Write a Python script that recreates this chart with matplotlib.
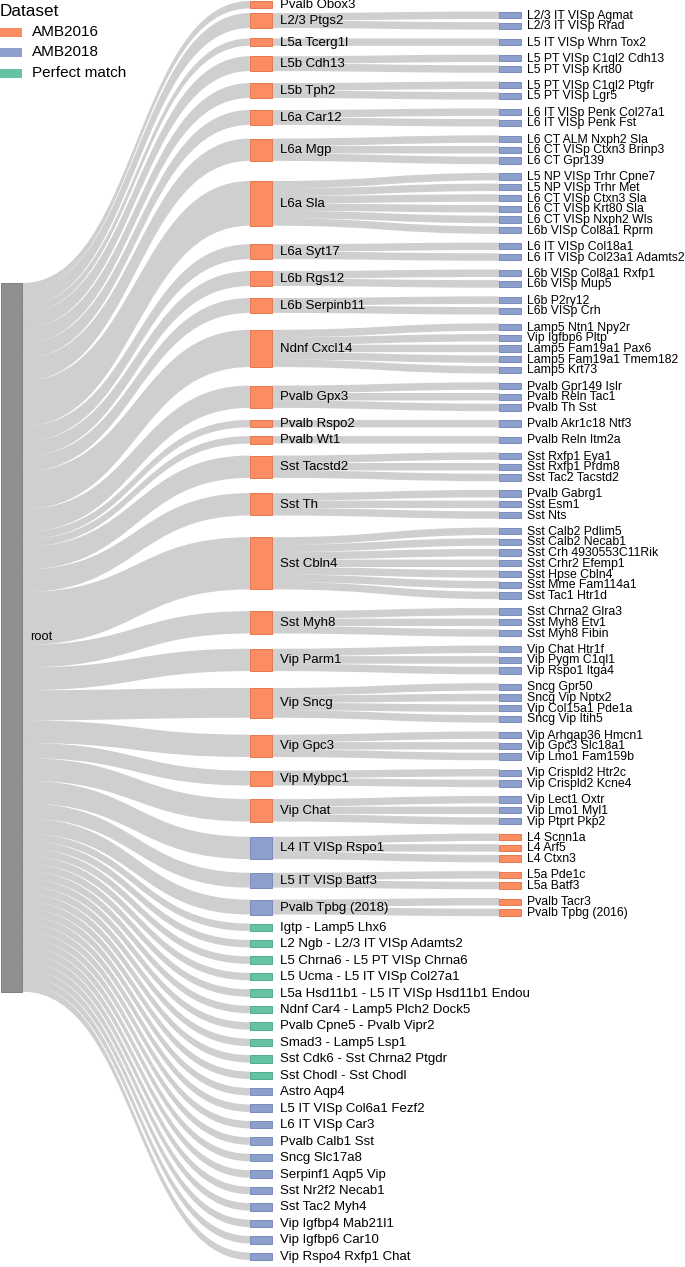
import numpy as np
import matplotlib
matplotlib.use("Agg")
import matplotlib.pyplot as plt
from matplotlib.path import Path
from matplotlib.patches import PathPatch, Rectangle

plt.rcParams['font.family'] = ['Liberation Sans', 'DejaVu Sans']

# ---- data ----
mid_names = ['Pvalb Obox3', 'L2/3 Ptgs2', 'L5a Tcerg1l', 'L5b Cdh13', 'L5b Tph2', 'L6a Car12',
             'L6a Mgp', 'L6a Sla', 'L6a Syt17', 'L6b Rgs12', 'L6b Serpinb11', 'Ndnf Cxcl14',
             'Pvalb Gpx3', 'Pvalb Rspo2', 'Pvalb Wt1', 'Sst Tacstd2', 'Sst Th', 'Sst Cbln4',
             'Sst Myh8', 'Vip Parm1', 'Vip Sncg', 'Vip Gpc3', 'Vip Mybpc1', 'Vip Chat',
             'L4 IT VISp Rspo1', 'L5 IT VISp Batf3', 'Pvalb Tpbg (2018)']
mid_dataset = ['AMB2016'] * 24 + ['AMB2018'] * 3
mid_children = [
    [],
    ['L2/3 IT VISp Agmat', 'L2/3 IT VISp Rrad'],
    ['L5 IT VISp Whrn Tox2'],
    ['L5 PT VISp C1ql2 Cdh13', 'L5 PT VISp Krt80'],
    ['L5 PT VISp C1ql2 Ptgfr', 'L5 PT VISp Lgr5'],
    ['L6 IT VISp Penk Col27a1', 'L6 IT VISp Penk Fst'],
    ['L6 CT ALM Nxph2 Sla', 'L6 CT VISp Ctxn3 Brinp3', 'L6 CT Gpr139'],
    ['L5 NP VISp Trhr Cpne7', 'L5 NP VISp Trhr Met', 'L6 CT VISp Ctxn3 Sla',
     'L6 CT VISp Krt80 Sla', 'L6 CT VISp Nxph2 Wls', 'L6b VISp Col8a1 Rprm'],
    ['L6 IT VISp Col18a1', 'L6 IT VISp Col23a1 Adamts2'],
    ['L6b VISp Col8a1 Rxfp1', 'L6b VISp Mup5'],
    ['L6b P2ry12', 'L6b VISp Crh'],
    ['Lamp5 Ntn1 Npy2r', 'Vip Igfbp6 Pltp', 'Lamp5 Fam19a1 Pax6', 'Lamp5 Fam19a1 Tmem182', 'Lamp5 Krt73'],
    ['Pvalb Gpr149 Islr', 'Pvalb Reln Tac1', 'Pvalb Th Sst'],
    ['Pvalb Akr1c18 Ntf3'],
    ['Pvalb Reln Itm2a'],
    ['Sst Rxfp1 Eya1', 'Sst Rxfp1 Prdm8', 'Sst Tac2 Tacstd2'],
    ['Pvalb Gabrg1', 'Sst Esm1', 'Sst Nts'],
    ['Sst Calb2 Pdlim5', 'Sst Calb2 Necab1', 'Sst Crh 4930553C11Rik', 'Sst Crhr2 Efemp1',
     'Sst Hpse Cbln4', 'Sst Mme Fam114a1', 'Sst Tac1 Htr1d'],
    ['Sst Chrna2 Glra3', 'Sst Myh8 Etv1', 'Sst Myh8 Fibin'],
    ['Vip Chat Htr1f', 'Vip Pygm C1ql1', 'Vip Rspo1 Itga4'],
    ['Sncg Gpr50', 'Sncg Vip Nptx2', 'Vip Col15a1 Pde1a', 'Sncg Vip Itih5'],
    ['Vip Arhgap36 Hmcn1', 'Vip Gpc3 Slc18a1', 'Vip Lmo1 Fam159b'],
    ['Vip Crispld2 Htr2c', 'Vip Crispld2 Kcne4'],
    ['Vip Lect1 Oxtr', 'Vip Lmo1 Myl1', 'Vip Ptprt Pkp2'],
    ['L4 Scnn1a', 'L4 Arf5', 'L4 Ctxn3'],
    ['L5a Pde1c', 'L5a Batf3'],
    ['Pvalb Tacr3', 'Pvalb Tpbg (2016)'],
]
match_names = ['Igtp - Lamp5 Lhx6', 'L2 Ngb - L2/3 IT VISp Adamts2', 'L5 Chrna6 - L5 PT VISp Chrna6',
               'L5 Ucma - L5 IT VISp Col27a1', 'L5a Hsd11b1 - L5 IT VISp Hsd11b1 Endou',
               'Ndnf Car4 - Lamp5 Plch2 Dock5', 'Pvalb Cpne5 - Pvalb Vipr2', 'Smad3 - Lamp5 Lsp1',
               'Sst Cdk6 - Sst Chrna2 Ptgdr', 'Sst Chodl - Sst Chodl']
only2018_names = ['Astro Aqp4', 'L5 IT VISp Col6a1 Fezf2', 'L6 IT VISp Car3', 'Pvalb Calb1 Sst',
                  'Sncg Slc17a8', 'Serpinf1 Aqp5 Vip', 'Sst Nr2f2 Necab1', 'Sst Tac2 Myh4',
                  'Vip Igfbp4 Mab21l1', 'Vip Igfbp6 Car10', 'Vip Rspo4 Rxfp1 Chat']

colors = {'AMB2016': '#fc8d62', 'AMB2018': '#8da0cb', 'Perfect match': '#66c2a5'}
edges = {'AMB2016': '#e8784e', 'AMB2018': '#7a8cbc', 'Perfect match': '#52ad91'}

# ---- layout ----
unit = 7.45
root_unit = 7.54
x_root, x_mid, x_leaf, node_w = 0.5, 250, 499.5, 22
leaf_top, pitch_in, pitch_out = 11.5, 10.7, 16.2
bottom_gap = 9.0
root_top = 283

fig = plt.figure(figsize=(6.85, 12.67), dpi=100)
ax = fig.add_axes([0, 0, 1, 1])
ax.set_xlim(0, 685)
ax.set_ylim(1267, 0)
ax.axis('off')


def band(xa, ya0, ha, xb, yb0, hb):
    xm = (xa + xb) / 2
    verts = [(xa, ya0), (xm, ya0), (xm, yb0), (xb, yb0),
             (xb, yb0 + hb), (xm, yb0 + hb), (xm, ya0 + ha), (xa, ya0 + ha), (xa, ya0)]
    codes = [Path.MOVETO, Path.CURVE4, Path.CURVE4, Path.CURVE4,
             Path.LINETO, Path.CURVE4, Path.CURVE4, Path.CURVE4, Path.CLOSEPOLY]
    ax.add_patch(PathPatch(Path(verts, codes), facecolor='black', alpha=0.19,
                           edgecolor='none', zorder=1))


def node(x, y0, h, ds):
    ax.add_patch(Rectangle((x, y0), node_w, h, facecolor=colors[ds], edgecolor=edges[ds],
                           lw=0.7, zorder=3))


# leaf column positions
leaf_c = []
y = leaf_top + unit / 2
first = True
for kids in mid_children:
    cs = []
    for i, k in enumerate(kids):
        if not first:
            y += pitch_in if i > 0 else pitch_out
        first = False
        cs.append(y)
    leaf_c.append(cs)

# middle column positions (centred on their children)
mid_val = [max(len(k), 1) for k in mid_children]
mid_top = [np.mean(cs) - len(cs) * unit / 2 if cs else 1.0 for cs in leaf_c]

all_names = mid_names + match_names + only2018_names
all_sets = mid_dataset + ['Perfect match'] * len(match_names) + ['AMB2018'] * len(only2018_names)
all_vals = mid_val + [1] * (len(match_names) + len(only2018_names))
all_tops = list(mid_top)
yb = mid_top[-1] + mid_val[-1] * unit
for _ in match_names + only2018_names:
    yb += bottom_gap
    all_tops.append(yb)
    yb += unit

# root node
total = sum(all_vals)
root_h = total * root_unit
ax.add_patch(Rectangle((x_root, root_top), node_w, root_h, facecolor='#8f8f8f',
                       edgecolor='#7f7f7f', lw=0.7, zorder=3))
ax.text(x_root + node_w + 8, root_top + root_h / 2, 'root', fontsize=9.3, va='center', zorder=4)

# root -> middle
ry = root_top
for name, ds, v, top in zip(all_names, all_sets, all_vals, all_tops):
    h = v * unit
    band(x_root + node_w, ry, v * root_unit, x_mid, top, h)
    ry += v * root_unit
    node(x_mid, top, h, ds)
    ax.text(x_mid + node_w + 8, top + h / 2 + 0.5, name, fontsize=9.5, va='center', zorder=4)

# middle -> leaves
for ds, kids, cs, top in zip(mid_dataset, mid_children, leaf_c, mid_top):
    leaf_ds = 'AMB2018' if ds == 'AMB2016' else 'AMB2016'
    for i, (k, c) in enumerate(zip(kids, cs)):
        band(x_mid + node_w, top + i * unit, unit, x_leaf, c - unit / 2, unit)
        node(x_leaf, c - unit * 0.42, unit * 0.84, leaf_ds)
        ax.text(x_leaf + node_w + 6, c + 0.5, k, fontsize=8.8, va='center', zorder=4)

# legend
ax.text(0, 11, 'Dataset', fontsize=12.3, va='center')
for i, lab in enumerate(['AMB2016', 'AMB2018', 'Perfect match']):
    yc = 32 + i * 20.5
    ax.add_patch(Rectangle((-1, yc - 4.5), 23, 9, facecolor=colors[lab], edgecolor='none'))
    ax.text(32, yc, lab, fontsize=11, va='center')

fig.savefig('out.png', dpi=100)
